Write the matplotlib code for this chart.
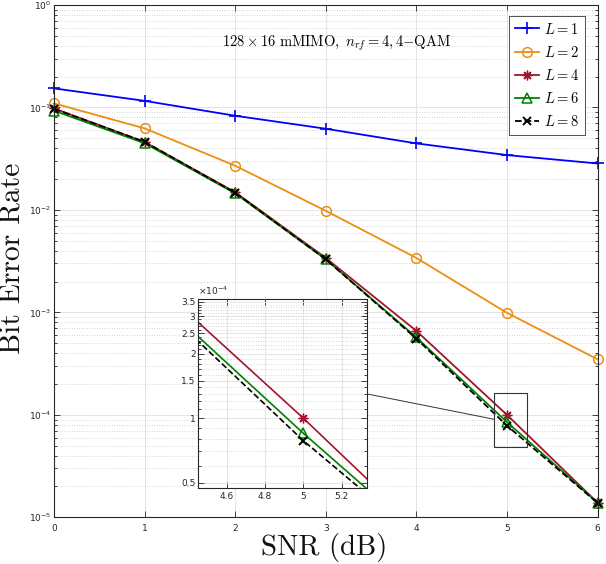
import numpy as np
import matplotlib
matplotlib.use('Agg')
import matplotlib.pyplot as plt
from matplotlib.patches import Rectangle, ConnectionPatch
from matplotlib.font_manager import FontProperties
from matplotlib.ticker import LogLocator, NullFormatter, FixedLocator, FixedFormatter

# data
snr = [0, 1, 2, 3, 4, 5, 6]
ber_L1 = [0.1535, 0.116, 0.083, 0.062, 0.0446, 0.0343, 0.0284]
ber_L2 = [0.1096, 0.0625, 0.027, 0.0098, 0.0034, 9.9e-4, 3.49e-4]
ber_L4 = [0.098, 0.046, 0.0149, 0.0034, 6.6e-4, 1.0e-4, 1.39e-5]
ber_L6 = [0.093, 0.0448, 0.0145, 0.0033, 5.7e-4, 8.5e-5, 1.39e-5]
ber_L8 = [0.097, 0.0462, 0.0147, 0.0033, 5.55e-4, 7.85e-5, 1.38e-5]
labels = [r'$L = 1$', r'$L = 2$', r'$L = 4$', r'$L = 6$', r'$L = 8$']

xticks = [0, 1, 2, 3, 4, 5, 6]
inset_yticks = [0.5e-4, 1e-4, 1.5e-4, 2e-4, 2.5e-4, 3e-4, 3.5e-4]
inset_yticklabels = ['0.5', '1', '1.5', '2', '2.5', '3', '3.5']
inset_xticks = [4.6, 4.8, 5.0, 5.2]
inset_xticklabels = ['4.6', '4.8', '5', '5.2']

series = [ber_L1, ber_L2, ber_L4, ber_L6, ber_L8]
styles = [dict(color='#0000FF', marker='+', ls='-', ms=8, mew=1.2),
          dict(color='#EC8E13', marker='o', ls='-', ms=7, mfc='none', mew=1.1),
          dict(color='#A2142F', marker=(8, 2, 0), ls='-', ms=7, mew=1.0),
          dict(color='#008000', marker='^', ls='-', ms=7, mfc='none', mew=1.1),
          dict(color='#000000', marker='x', ls='--', ms=6, mew=1.4)]

axcol = '#262626'
W, H = 606, 564
fig = plt.figure(figsize=(W / 100, H / 100), dpi=100)

def px_axes(l, t, r, b):
    return fig.add_axes([l / W, 1 - b / H, (r - l) / W, (b - t) / H])

def style_axes(ax):
    for s in ax.spines.values():
        s.set_color(axcol)
        s.set_linewidth(0.8)
    ax.tick_params(which='both', direction='in', top=True, right=True,
                   colors=axcol, labelsize=6.5, width=0.6)
    ax.tick_params(which='major', length=4)
    ax.tick_params(which='minor', length=2.5)
    ax.grid(True, which='major', color='#e4e4e4', lw=0.7, ls='-')
    ax.grid(True, which='minor', axis='y', color='#c8c8c8', lw=0.6, ls=(0, (1, 2)))
    ax.set_axisbelow(True)

# main axes
ax = px_axes(54, 5, 597.5, 517.3)
for y, st, lab in zip(series, styles, labels):
    ax.plot(snr, y, lw=1.3, label=lab, clip_on=False, **st)
ax.set_yscale('log')
ax.set_xlim(0, 6)
ax.set_ylim(1e-5, 1)
ax.set_xticks(xticks)
ax.yaxis.set_minor_locator(LogLocator(base=10, subs=np.arange(2, 10)))
ax.yaxis.set_minor_formatter(NullFormatter())
style_axes(ax)
ax.tick_params(axis='x', pad=5)
ax.tick_params(axis='y', pad=2)

# axis titles placed by pixel
fig.text(324 / W, 1 - 555 / H, 'SNR (dB)', family='cmr10', fontsize=20.6,
         ha='center', va='baseline', color='#111111')
fig.text(19.5 / W, 1 - 258 / H, 'Bit Error Rate', family='cmr10', fontsize=21.3,
         ha='center', va='baseline', rotation=90, rotation_mode='anchor', color='#111111')

ax.text(0.519, 0.926, r'$128\times16\ \mathrm{mMIMO},\ n_{rf}=4,4\mathrm{-QAM}$',
        transform=ax.transAxes, ha='center', va='center', fontsize=10.5,
        math_fontfamily='cm')

leg = ax.legend(loc='upper right', bbox_to_anchor=(0.977, 0.979), borderaxespad=0,
                prop=FontProperties(size=10.5, math_fontfamily='cm'),
                fancybox=False, framealpha=1, edgecolor='#333333',
                handlelength=1.7, handletextpad=0.3, labelspacing=0.55,
                borderpad=0.4)
leg.get_frame().set_linewidth(0.6)

# zoom rectangle on the main axes
ax.add_patch(Rectangle((4.856, 4.83e-5), 5.22 - 4.856, 1.65e-4 - 4.83e-5,
                       fill=False, ec='#333333', lw=0.8, zorder=5))

# inset
axi = px_axes(198.3, 299.3, 367.3, 488.3)
for y, st in zip(series, styles):
    axi.plot(snr, y, lw=1.2, **st)
axi.set_yscale('log')
axi.set_xlim(4.453, 5.333)
axi.set_ylim(0.47e-4, 3.6e-4)
axi.set_xticks(inset_xticks)
axi.set_xticklabels(inset_xticklabels)
axi.yaxis.set_major_locator(FixedLocator(inset_yticks))
axi.yaxis.set_major_formatter(FixedFormatter(inset_yticklabels))
axi.yaxis.set_minor_locator(FixedLocator(np.arange(0.5e-4, 3.6e-4, 0.1e-4)))
axi.yaxis.set_minor_formatter(NullFormatter())
style_axes(axi)
axi.tick_params(axis='y', pad=2)
axi.tick_params(axis='x', pad=3)
axi.set_facecolor('white')
axi.text(0.0, 1.01, r'$\times10^{-4}$', transform=axi.transAxes, ha='left', va='bottom',
         fontsize=6.5, color=axcol)

con = ConnectionPatch(xyA=(1.0, 0.499), coordsA=axi.transAxes,
                      xyB=(4.856, 9.06e-5), coordsB=ax.transData,
                      color='#333333', lw=0.7)
fig.add_artist(con)

fig.savefig('out.png', dpi=100)
